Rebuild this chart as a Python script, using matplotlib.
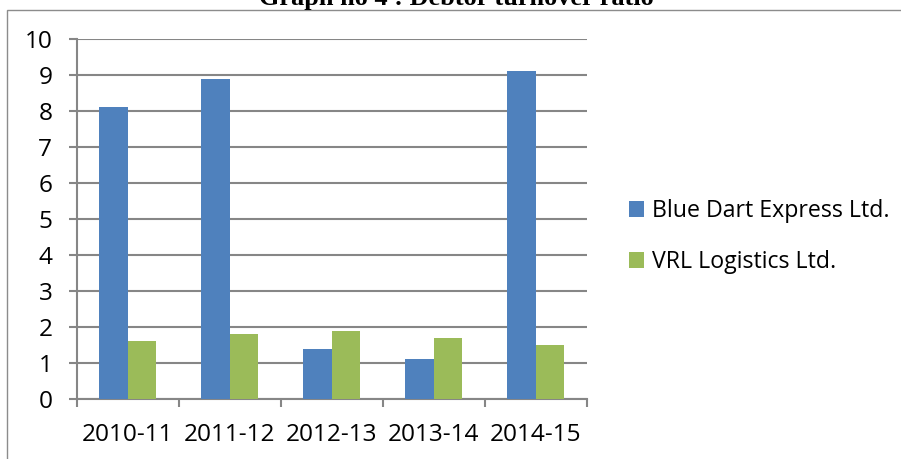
import matplotlib
matplotlib.use('Agg')
import matplotlib.pyplot as plt
from matplotlib.patches import Rectangle, Patch
from matplotlib.font_manager import FontProperties
from matplotlib.textpath import TextPath
from matplotlib.ticker import FixedLocator, NullFormatter

categories = ['2010-11', '2011-12', '2012-13', '2013-14', '2014-15']
blue_dart = [8.1, 8.9, 1.4, 1.1, 9.1]
vrl = [1.6, 1.8, 1.9, 1.7, 1.5]
series_names = ['Blue Dart Express Ltd.', 'VRL Logistics Ltd.']
title = 'Graph no 4 : Debtor turnover ratio'
yticks = list(range(0, 11))

W, H, DPI = 901, 459, 100
fig = plt.figure(figsize=(W / DPI, H / DPI), dpi=DPI)

SANS = 'Open Sans'
SERIF = 'Liberation Serif'


def fit_size(s, family, weight, target_px):
    tp = TextPath((0, 0), s, size=10, prop=FontProperties(family=family, weight=weight))
    w = tp.get_extents().width * DPI / 72.0
    return 10 * target_px / w


fs_tick = fit_size('2010-11', SANS, 'normal', 85)
fs_leg = fit_size('Blue Dart Express Ltd.', SANS, 'normal', 233)
fs_title = fit_size(title, SERIF, 'bold', 392)

blue = '#4F81BD'
green = '#9BBB59'
grid = '#868686'

# outer chart border
fig.add_artist(Rectangle((7 / W, -0.1), 1.2, (H - 10) / H + 0.1, transform=fig.transFigure,
                         fill=False, edgecolor='#8c8c8c', lw=1.0, clip_on=False))

fig.text(456 / W, 1 - 4.5 / H, title, ha='center', va='baseline',
         fontfamily=SERIF, fontweight='bold', fontsize=fs_title)

ax = fig.add_axes([77 / W, (H - 399) / H, 509.5 / W, 360 / H])
x = list(range(len(categories)))
w = 0.28
ax.bar([i - w / 2 for i in x], blue_dart, width=w, color=blue, zorder=3, label=series_names[0])
ax.bar([i + w / 2 for i in x], vrl, width=w, color=green, zorder=3, label=series_names[1])

ax.set_xlim(-0.5, len(categories) - 0.5)
ax.set_ylim(0, 10)
ax.set_yticks(yticks)
ax.set_yticklabels([str(v) for v in yticks], fontfamily=SANS, fontsize=fs_tick)
ax.yaxis.grid(True, color=grid, lw=1.5, zorder=0)
ax.set_axisbelow(True)

ax.xaxis.set_major_locator(FixedLocator([i - 0.5 for i in range(len(categories) + 1)]))
ax.xaxis.set_major_formatter(NullFormatter())
ax.xaxis.set_minor_locator(FixedLocator(x))
ax.set_xticklabels(categories, minor=True, fontfamily=SANS, fontsize=fs_tick)
ax.tick_params(axis='x', which='minor', length=0, pad=17)
ax.tick_params(axis='x', which='major', length=8 * 72 / DPI, width=1.5, color=grid, direction='out')
ax.tick_params(axis='y', length=8 * 72 / DPI, width=1.5, color=grid, direction='out', pad=12)

for side in ['top', 'right']:
    ax.spines[side].set_visible(False)
for side in ['left', 'bottom']:
    ax.spines[side].set_color(grid)
    ax.spines[side].set_linewidth(1.5)

fs_px = fs_leg * DPI / 72
handles = [Patch(facecolor=blue), Patch(facecolor=green)]
ax.legend(handles, series_names, loc='center left',
          bbox_to_anchor=(629 / W, 1 - 236.5 / H), bbox_transform=fig.transFigure,
          frameon=False, borderpad=0, borderaxespad=0,
          prop=FontProperties(family=SANS, size=fs_leg),
          handlelength=15 / fs_px, handleheight=15 / fs_px,
          handletextpad=8 / fs_px, labelspacing=(57 - 1.3 * fs_px) / fs_px)

fig.savefig('out.png', dpi=DPI)
